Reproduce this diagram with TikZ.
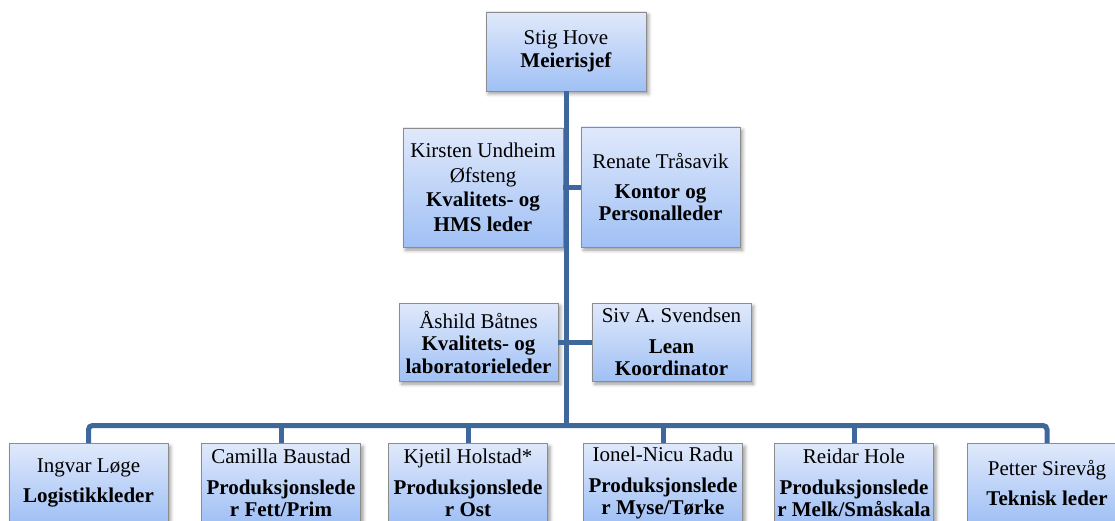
\documentclass[tikz,border=0pt]{standalone}
\usepackage{fontspec}
\setmainfont{Liberation Serif}
\usetikzlibrary{shadows.blur}
\definecolor{linecol}{RGB}{62,104,156}
\definecolor{boxtop}{RGB}{224,233,251}
\definecolor{boxbot}{RGB}{160,192,245}
\definecolor{boxedge}{RGB}{140,140,140}
\tikzset{
  box/.style={draw=boxedge, line width=0.8pt, top color=boxtop, bottom color=boxbot,
    minimum width=159pt, minimum height=79pt, inner sep=1pt, align=center,
    font=\fontsize{21}{22.5}\selectfont,
    blur shadow={shadow xshift=2.5pt, shadow yshift=-3pt, shadow blur radius=3.5pt, shadow opacity=40}},
  conn/.style={draw=linecol, line width=5pt},
}
\begin{document}
\begin{tikzpicture}[x=1pt,y=-1pt]
\useasboundingbox (0,0) rectangle (1115,521);
\coordinate (bus) at (566,425.5);
% nodes
\node[box, minimum width=160pt] (top) at (566,51.5) {\rule{0pt}{4pt}Stig Hove\\ \textbf{Meierisjef}};
\node[box, minimum width=160pt, minimum height=119pt] (kir) at (483,187.5) {Kirsten Undheim\\[2pt] Øfsteng\\[2pt] \textbf{Kvalitets- og}\\[2pt] \textbf{HMS leder}};
\node[box, minimum height=120pt] (ren) at (660.5,187) {Renate Tråsavik\\[7pt] \textbf{Kontor og}\\ \textbf{Personalleder}};
\node[box, minimum height=78pt] (ash) at (478.5,342) {Åshild Båtnes\\ \textbf{Kvalitets- og}\\ \textbf{laboratorieleder}};
\node[box, minimum height=78pt] (siv) at (671.5,342) {Siv A. Svendsen\\[8pt] \textbf{Lean}\\ \textbf{Koordinator}};
\node[box] (b1) at (88.5,483) {Ingvar Løge\\[7pt] \textbf{Logistikkleder}};
\node[box] (b2) at (281,483) {Camilla Baustad\\[8pt] \textbf{Produksjonslede}\\ \textbf{r Fett/Prim}};
\node[box] (b3) at (468,483) {Kjetil Holstad*\\[8pt] \textbf{Produksjonslede}\\ \textbf{r Ost}};
\node[box] (b4) at (663,483) {Ionel-Nicu Radu\\[8pt] \textbf{Produksjonslede}\\ \textbf{r Myse/Tørke}};
\node[box] (b5) at (854,483) {Reidar Hole\\[8pt] \textbf{Produksjonslede}\\ \textbf{r Melk/Småskala}};
\node[box] (b6) at (1047,483) {Petter Sirevåg\\[7pt] \textbf{Teknisk leder}};
% connectors
\draw[conn] (top.south) -- (bus);
\draw[conn] (kir.east |- 0,188) -- (ren.west |- 0,188);
\draw[conn] (ash.east) -- (siv.west);
\draw[conn, rounded corners=4pt] (b1.north) -- (b1.north |- bus) -- (b6.north |- bus) -- (b6.north);
\foreach \b in {b2,b3,b4,b5} \draw[conn] (\b.north) -- (\b.north |- bus);
\end{tikzpicture}
\end{document}
